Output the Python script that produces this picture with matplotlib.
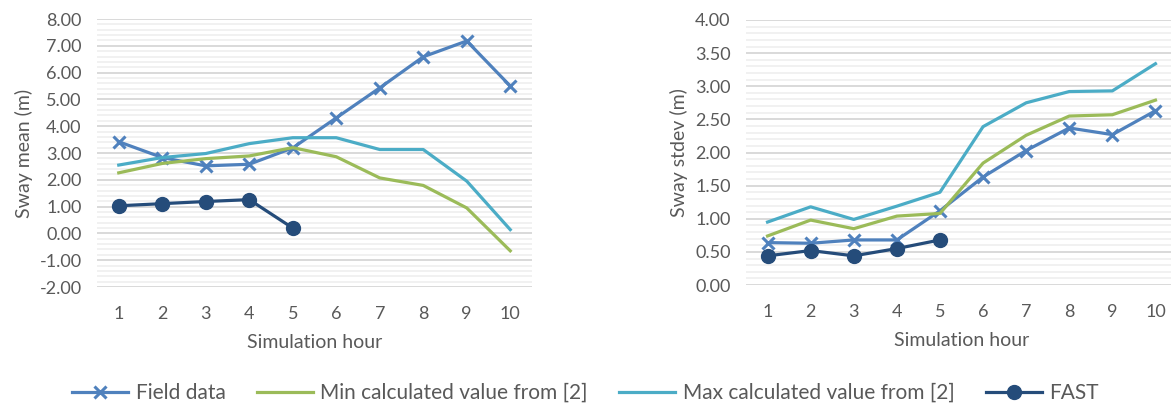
import matplotlib
matplotlib.use("Agg")
import matplotlib.pyplot as plt
from matplotlib.ticker import MultipleLocator, FormatStrFormatter

plt.rcParams['font.family'] = ['Lato', 'DejaVu Sans']
plt.rcParams['axes.unicode_minus'] = False

hours = [1, 2, 3, 4, 5, 6, 7, 8, 9, 10]
hour_labels = [str(h) for h in hours]

# sway mean (m)
mean_field = [3.42, 2.83, 2.52, 2.58, 3.19, 4.31, 5.43, 6.59, 7.18, 5.50]
mean_min = [2.26, 2.61, 2.79, 2.89, 3.20, 2.86, 2.07, 1.79, 0.95, -0.65]
mean_max = [2.55, 2.83, 2.98, 3.35, 3.57, 3.57, 3.13, 3.13, 1.95, 0.14]
mean_fast = [1.03, 1.11, 1.19, 1.26, 0.20]

# sway stdev (m)
std_field = [0.64, 0.63, 0.68, 0.68, 1.12, 1.63, 2.03, 2.37, 2.27, 2.63]
std_min = [0.74, 0.98, 0.85, 1.04, 1.08, 1.84, 2.26, 2.55, 2.57, 2.79]
std_max = [0.95, 1.18, 0.99, 1.19, 1.40, 2.39, 2.75, 2.92, 2.93, 3.34]
std_fast = [0.44, 0.52, 0.44, 0.55, 0.68]

names = ['Field data', 'Min calculated value from [2]',
         'Max calculated value from [2]', 'FAST']
colors = ['#4F81BD', '#9BBB59', '#4BACC6', '#254C7A']
txt = '#595959'

fig = plt.figure(figsize=(11.71, 4.07), dpi=100)
ax1 = fig.add_axes([97 / 1171, 1 - 287 / 407, 435 / 1171, 268 / 407])
ax2 = fig.add_axes([746 / 1171, 1 - 285 / 407, 431 / 1171, 265 / 407])


def draw(ax, field, mn, mx, fast, ylim, major, minor, ylabel):
    x = list(range(len(hours)))
    lines = []
    lines += ax.plot(x, field, color=colors[0], lw=2.3, marker='x', ms=9, mew=2.2)
    lines += ax.plot(x, mn, color=colors[1], lw=2.3)
    lines += ax.plot(x, mx, color=colors[2], lw=2.3)
    lines += ax.plot(x[:len(fast)], fast, color=colors[3], lw=2.3, marker='o', ms=10)
    ax.set_xlim(-0.5, len(hours) - 0.5)
    ax.set_ylim(*ylim)
    ax.set_xticks(x)
    ax.set_xticklabels(hour_labels)
    ax.yaxis.set_major_locator(MultipleLocator(major))
    ax.yaxis.set_minor_locator(MultipleLocator(minor))
    ax.yaxis.set_major_formatter(FormatStrFormatter('%.2f'))
    ax.grid(True, which='major', axis='y', color='#D9D9D9', lw=1.4)
    ax.grid(True, which='minor', axis='y', color='#EFEFEF', lw=1.2)
    ax.set_axisbelow(True)
    for s in ax.spines.values():
        s.set_visible(False)
    ax.tick_params(which='both', length=0, colors=txt, labelsize=13)
    ax.tick_params(axis='x', pad=14)
    ax.tick_params(axis='y', pad=11)
    ax.set_xlabel('Simulation hour', color=txt, fontsize=14, labelpad=8)
    ax.set_ylabel(ylabel, color=txt, fontsize=14, labelpad=5)
    return lines


lines = draw(ax1, mean_field, mean_min, mean_max, mean_fast,
             (-2, 8), 1.0, 0.2, 'Sway mean (m)')
draw(ax2, std_field, std_min, std_max, std_fast,
     (0, 4), 0.5, 0.1, 'Sway stdev (m)')

leg = fig.legend(lines, names, loc='center', bbox_to_anchor=(0.5, 1 - 393 / 407),
                 ncol=4, frameon=False, fontsize=15, handlelength=2.7,
                 handletextpad=0.35, columnspacing=1.5)
for t in leg.get_texts():
    t.set_color(txt)

fig.savefig('out.png', dpi=100)
